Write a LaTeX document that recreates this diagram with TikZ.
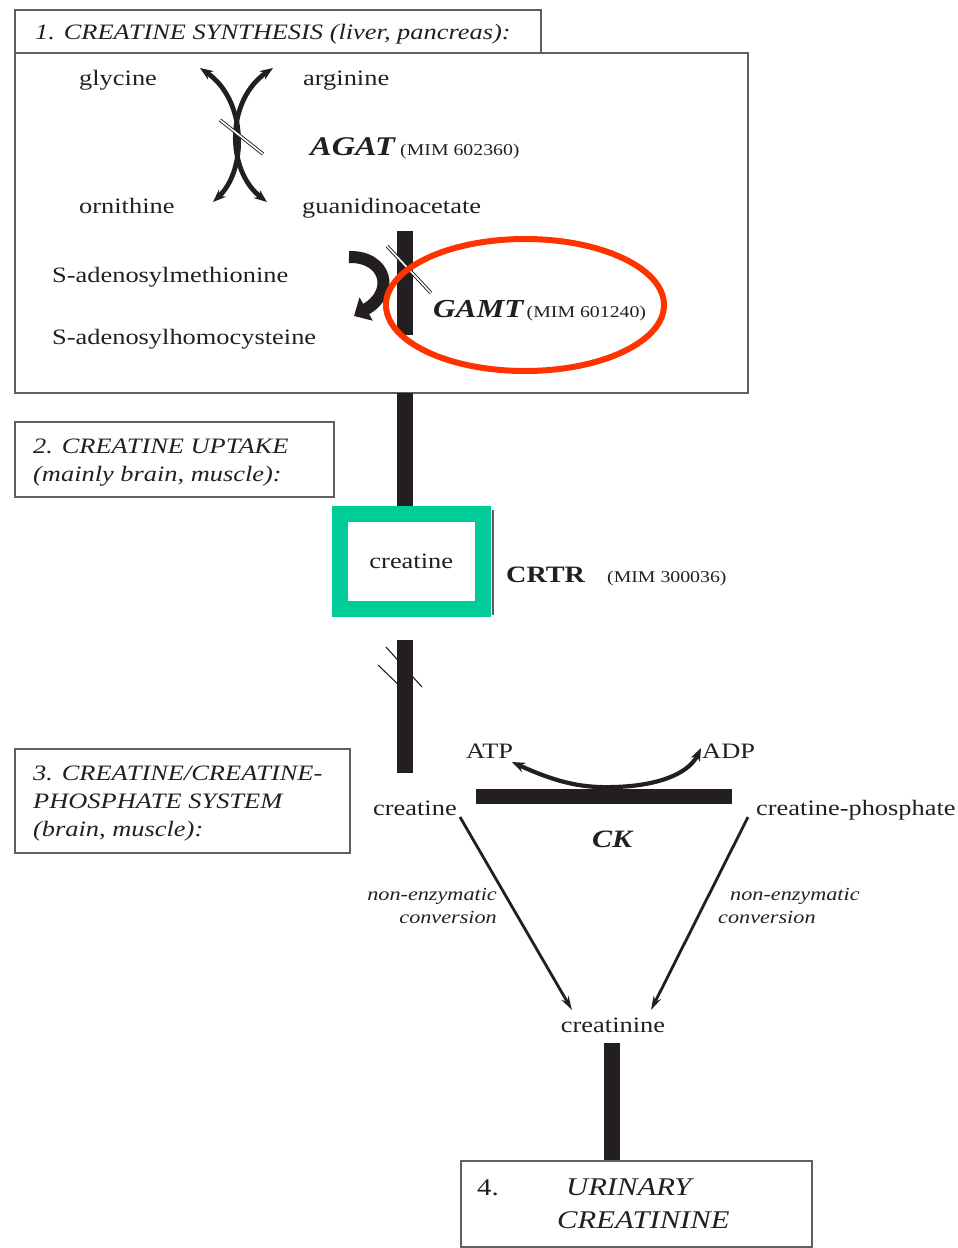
\documentclass[tikz,border=0pt]{standalone}
\usepackage{fontspec}
\setmainfont{Liberation Serif}[FakeStretch=1.2]
\usetikzlibrary{arrows.meta}
\definecolor{ink}{RGB}{35,31,32}
\definecolor{framegray}{RGB}{95,95,95}
\definecolor{crtgreen}{RGB}{0,204,153}
\definecolor{ringred}{RGB}{255,51,0}
\begin{document}
\begin{tikzpicture}[x=1pt,y=-1pt,
  boxframe/.style={draw=framegray, line width=1.6pt, inner sep=0pt},
  lbl/.style={inner sep=0pt, text=ink, font=\fontsize{22}{26}\selectfont, anchor=base west},
  ital/.style={lbl, font=\fontsize{22}{26}\selectfont\itshape},
  mim/.style={lbl, font=\fontsize{16.5}{20}\selectfont},
  enz/.style={lbl, font=\fontsize{27}{30}\selectfont\bfseries\itshape},
  enztxt/.style={lbl, font=\fontsize{18.5}{22}\selectfont\itshape},
  thickbar/.style={draw=ink, line width=15pt},
  curvy/.style={draw=ink, line width=4.8pt, {Stealth[length=13pt,width=10pt]}-{Stealth[length=13pt,width=10pt]}},
  slash/.style={draw=ink, line width=0.9pt, double=white, double distance=1.6pt},
  conv/.style={draw=ink, line width=2.8pt, -{Stealth[length=14pt,width=8pt]}}
]
\useasboundingbox (0,0) rectangle (958,1248);

% ---------- section 1 ----------
\node[boxframe, minimum width=733pt, minimum height=340pt] (synth) at (381.5,223) {};
\node[boxframe, minimum width=526pt, minimum height=43pt] (synthhead) at (278,31.5) {};
\node[ital] (t1) at (35,39) {1. CREATINE SYNTHESIS (liver, pancreas):};

\node[lbl] (gly) at (79,85) {glycine};
\node[lbl] (arg) at (303,85) {arginine};
\node[enz] (agat) at (310,155) {AGAT};
\node[mim] (agatmim) at ([xshift=5pt]agat.base east) {(MIM 602360)};
\node[lbl] (orn) at (79,213) {ornithine};
\node[lbl] (gaa) at (302,213) {guanidinoacetate};
\node[lbl] (sam) at (52,282) {S-adenosylmethionine};
\node[lbl] (sah) at (52,344) {S-adenosylhomocysteine};
\node[enz, font=\fontsize{26}{30}\selectfont\bfseries\itshape] (gamt) at (433,317) {GAMT};
\node[mim] (gamtmim) at ([xshift=3pt]gamt.base east) {(MIM 601240)};

% AGAT crossing arrows
\coordinate (ag1) at (200,68);
\coordinate (ag2) at (213,202);
\coordinate (ag3) at (273,68);
\coordinate (ag4) at (267,202);
\draw[curvy] (ag1) .. controls (247,100) and (247,170) .. (ag2);
\draw[curvy] (ag3) .. controls (226,100) and (226,170) .. (ag4);
\coordinate (as1) at (220,120); \coordinate (as2) at (263,154);
\draw[slash] (as1) -- (as2);

% GAMT bar and curved arrow
\coordinate (g1) at (405,231);
\coordinate (g2) at (405,335);
\draw[thickbar, line width=16pt] (g1) -- (g2);
\coordinate (sa1) at (349,257);
\coordinate (sa2) at (354,316);
\draw[draw=ink, line width=12pt, -{Triangle[length=14pt,width=26pt]}] (sa1) .. controls (386,256) and (396,292) .. (sa2);
\coordinate (gs1) at (387,246); \coordinate (gs2) at (431,293);
\draw[slash] (gs1) -- (gs2);

% ---------- section 2 ----------
\node[boxframe, minimum width=319pt, minimum height=75pt] (upbox) at (174.5,459.5) {};
\node[ital] (t2a) at (33,453) {2. CREATINE UPTAKE};
\node[ital] (t2b) at (33,481) {(mainly brain, muscle):};

\coordinate (b1a) at (405,393);
\coordinate (b1b) at (405,510);
\draw[thickbar, line width=16pt] (b1a) -- (b1b);

\coordinate (edge1) at (493,510);
\coordinate (edge2) at (493,615);
\draw[framegray, line width=1.3pt] (edge1) -- (edge2);
\node[draw=crtgreen, line width=16pt, minimum width=143.5pt, minimum height=95.5pt, inner sep=0pt, text=ink, font=\fontsize{22}{26}\selectfont] (crt) at (411.25,561.25) {creatine};
\node[lbl, font=\fontsize{23.5}{26}\selectfont\bfseries] (crtr) at (506,582) {CRTR};
\node[mim] (crtrmim) at (607,582) {(MIM 300036)};

\coordinate (b2a) at (405,640);
\coordinate (b2b) at (405,773);
\draw[thickbar, line width=16pt] (b2a) -- (b2b);
\coordinate (cs1) at (386,647); \coordinate (cs2) at (422,687);
\coordinate (cs3) at (378,665); \coordinate (cs4) at (404,690);
\draw[draw=ink, line width=1.1pt] (cs1) -- (cs2);
\draw[draw=ink, line width=1.1pt] (cs3) -- (cs4);

% ---------- section 3 ----------
\node[boxframe, minimum width=335pt, minimum height=104pt] (sysbox) at (182.5,801) {};
\node[ital] (t3a) at (33,780) {3. CREATINE/CREATINE-};
\node[ital] (t3b) at (33,808) {PHOSPHATE SYSTEM};
\node[ital] (t3c) at (33,836) {(brain, muscle):};

\node[lbl] (atp) at (466,758) {ATP};
\node[lbl] (adp) at (702,758) {ADP};
\node[lbl] (cre) at (373,815) {creatine};
\node[lbl] (crp) at (756,815) {creatine-phosphate};
\node[enz, font=\fontsize{25}{28}\selectfont\bfseries\itshape] (ck) at (592,847) {CK};

\coordinate (ck1) at (476,796.5);
\coordinate (ck2) at (732,796.5);
\draw[thickbar] (ck1) -- (ck2);
\coordinate (atpT) at (512,762);
\coordinate (adpT) at (701,748);
\draw[curvy, line width=4.2pt] (atpT) .. controls (560,784) and (585,788) .. (614,787) .. controls (655,786) and (688,775) .. (adpT);

\node[enztxt, anchor=base east] (ne1) at (497,900) {non-enzymatic};
\node[enztxt, anchor=base east] (cv1) at (497,923) {conversion};
\node[enztxt] (ne2) at (730,900) {non-enzymatic};
\node[enztxt] (cv2) at (718,923) {conversion};

\coordinate (cl1) at (460,817);
\coordinate (cl2) at (572,1010);
\coordinate (cr1) at (748,817);
\coordinate (cr2) at (651,1010);
\draw[conv] (cl1) -- (cl2);
\draw[conv] (cr1) -- (cr2);

\node[lbl, anchor=base] (crn) at (613,1032) {creatinine};

% ---------- section 4 ----------
\coordinate (b3a) at (612,1043);
\coordinate (b3b) at (612,1162);
\draw[thickbar, line width=16pt] (b3a) -- (b3b);
\node[boxframe, minimum width=351pt, minimum height=86pt] (urbox) at (636.5,1204) {};
\node[lbl, font=\fontsize{24}{28}\selectfont] (t4n) at (477,1195) {4.};
\node[ital, font=\fontsize{25.5}{28}\selectfont\itshape] (t4a) at (566,1195) {URINARY};
\node[ital, font=\fontsize{25.5}{28}\selectfont\itshape] (t4b) at (557,1228) {CREATININE};

% red highlight
\draw[ringred, line width=6pt] (525,305) ellipse [x radius=139pt, y radius=66pt];
\end{tikzpicture}
\end{document}
